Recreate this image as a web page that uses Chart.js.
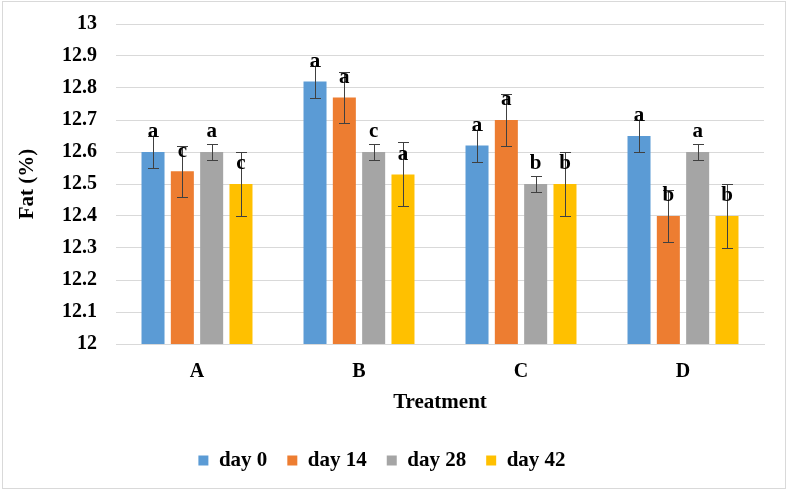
<!DOCTYPE html>
<html>
<head>
<meta charset="utf-8">
<script src="https://cdn.jsdelivr.net/npm/chart.js@4/dist/chart.umd.min.js"></script>
<style>
    body { margin: 0; background: #fff; }
    canvas { display: block; }
</style>
</head>
<body>
<canvas id="fatChart" width="789" height="491"></canvas>
<script>
// Treatments on the x axis
const treatments = ['A', 'B', 'C', 'D'];
const seriesNames = ['day 0', 'day 14', 'day 28', 'day 42'];

// Fat (%) means per sampling day
const day0 = [12.60, 12.82, 12.62, 12.65];
const day14 = [12.54, 12.77, 12.70, 12.40];
const day28 = [12.60, 12.60, 12.50, 12.60];
const day42 = [12.50, 12.53, 12.50, 12.40];

// error bar half-lengths
const err0 = [0.05, 0.05, 0.05, 0.05];
const err14 = [0.08, 0.08, 0.08, 0.08];
const err28 = [0.025, 0.025, 0.025, 0.025];
const err42 = [0.10, 0.10, 0.10, 0.10];

// significance letters
const letters0 = ['a', 'a', 'a', 'a'];
const letters14 = ['c', 'a', 'a', 'b'];
const letters28 = ['a', 'c', 'b', 'a'];
const letters42 = ['c', 'a', 'b', 'b'];

const yTicks = [12, 12.1, 12.2, 12.3, 12.4, 12.5, 12.6, 12.7, 12.8, 12.9, 13];

const colors = ['#5B9BD5', '#ED7D31', '#A5A5A5', '#FFC000'];
const serif = "'Liberation Serif', 'Times New Roman', serif";

const values = [day0, day14, day28, day42];
const errors = [err0, err14, err28, err42];
const letters = [letters0, letters14, letters28, letters42];

// Draws error bars, letters and the outer frame
const extrasPlugin = {
    id: 'extras',
    beforeDraw(chart) {
        const ctx = chart.ctx;
        ctx.save();
        ctx.fillStyle = '#fff';
        ctx.fillRect(0, 0, chart.width, chart.height);
        ctx.restore();
    },
    afterDatasetsDraw(chart) {
        const ctx = chart.ctx;
        const yScale = chart.scales.y;
        ctx.save();
        ctx.strokeStyle = '#404040';
        ctx.lineWidth = 1;
        chart.data.datasets.forEach((ds, di) => {
            const meta = chart.getDatasetMeta(di);
            meta.data.forEach((bar, i) => {
                const v = values[di][i];
                const e = errors[di][i];
                const x = Math.round(bar.x) + 0.5;
                const yTop = Math.round(yScale.getPixelForValue(v + e)) + 0.5;
                const yBot = Math.round(yScale.getPixelForValue(v - e)) + 0.5;
                ctx.beginPath();
                ctx.moveTo(x, yTop);
                ctx.lineTo(x, yBot);
                ctx.moveTo(x - 5.5, yTop);
                ctx.lineTo(x + 5.5, yTop);
                ctx.moveTo(x - 5.5, yBot);
                ctx.lineTo(x + 5.5, yBot);
                ctx.stroke();
            });
        });
        ctx.fillStyle = '#000';
        ctx.font = 'bold 21px ' + serif;
        ctx.textAlign = 'center';
        ctx.textBaseline = 'middle';
        chart.data.datasets.forEach((ds, di) => {
            const meta = chart.getDatasetMeta(di);
            meta.data.forEach((bar, i) => {
                ctx.fillText(letters[di][i], bar.x, bar.y - 20);
            });
        });
        ctx.restore();
    },
    afterDraw(chart) {
        const ctx = chart.ctx;
        ctx.save();
        ctx.strokeStyle = '#d9d9d9';
        ctx.lineWidth = 1;
        ctx.strokeRect(2.5, 1.5, 783, 487);
        ctx.restore();
    }
};

const ctx = document.getElementById('fatChart').getContext('2d');

new Chart(ctx, {
    type: 'bar',
    data: {
        labels: treatments,
        datasets: seriesNames.map((name, i) => ({
            label: name,
            data: values[i],
            backgroundColor: colors[i],
            categoryPercentage: 0.724,
            barPercentage: 0.785
        }))
    },
    options: {
        responsive: false,
        animation: false,
        layout: {
            padding: { top: 24, right: 25, left: 0, bottom: 10 }
        },
        scales: {
            y: {
                min: 12,
                max: 13,
                afterFit: (scale) => {
                    scale.width = 116;
                    scale.paddingTop = 0;
                    scale.paddingBottom = 0;
                },
                afterBuildTicks: (scale) => {
                    scale.ticks = yTicks.map(v => ({ value: v }));
                },
                ticks: {
                    padding: 19,
                    color: '#000',
                    font: { family: serif, size: 20, weight: 'bold' },
                    callback: (v) => String(Number(v.toFixed(1)))
                },
                grid: {
                    color: '#d9d9d9',
                    drawTicks: false
                },
                border: { display: false },
                title: {
                    display: true,
                    text: 'Fat (%)',
                    color: '#000',
                    font: { family: serif, size: 21, weight: 'bold', lineHeight: 1.2 },
                    padding: { top: 15, bottom: 0 }
                }
            },
            x: {
                afterFit: (scale) => { scale.height = 86; },
                ticks: {
                    padding: 16,
                    color: '#000',
                    font: { family: serif, size: 20, weight: 'bold' }
                },
                grid: {
                    display: false,
                    drawTicks: false
                },
                border: { color: '#d9d9d9' },
                title: {
                    display: true,
                    text: 'Treatment',
                    color: '#000',
                    font: { family: serif, size: 21, weight: 'bold', lineHeight: 1.2 },
                    padding: { top: 0, bottom: 15 }
                }
            }
        },
        plugins: {
            legend: {
                position: 'bottom',
                labels: {
                    boxWidth: 10,
                    boxHeight: 10,
                    padding: 20,
                    color: '#000',
                    font: { family: serif, size: 21, weight: 'bold' }
                }
            },
            tooltip: { enabled: false }
        }
    },
    plugins: [extrasPlugin]
});
</script>
</body>
</html>
